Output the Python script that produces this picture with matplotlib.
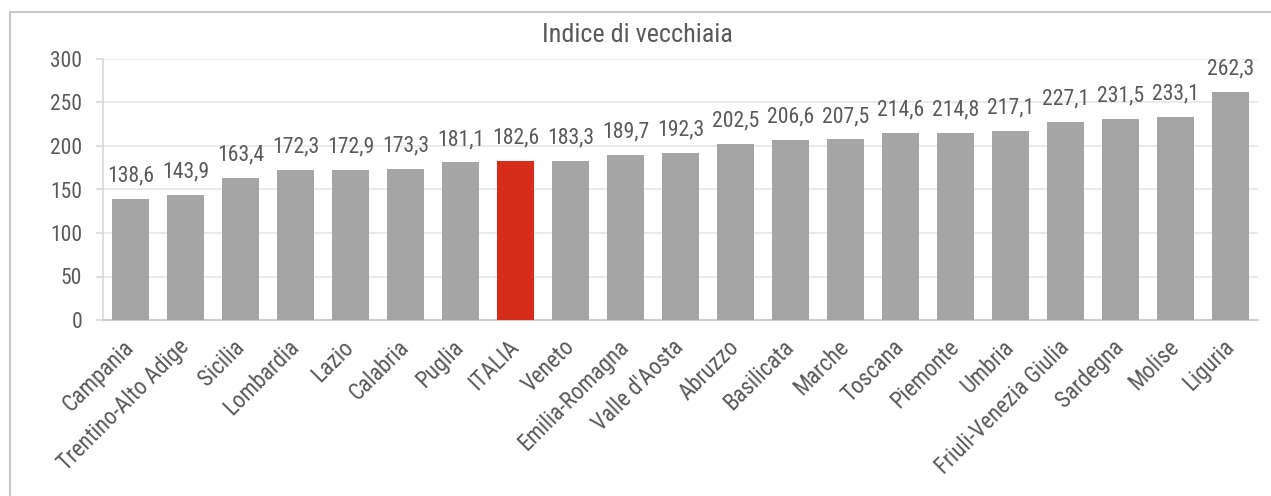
import matplotlib
matplotlib.use("Agg")
import matplotlib.pyplot as plt
from matplotlib.patches import Rectangle

plt.rcParams['font.family'] = ['Roboto Condensed', 'Liberation Sans Narrow', 'Liberation Sans', 'DejaVu Sans']

categories = ["Campania", "Trentino-Alto Adige", "Sicilia", "Lombardia", "Lazio",
              "Calabria", "Puglia", "ITALIA", "Veneto", "Emilia-Romagna",
              "Valle d'Aosta", "Abruzzo", "Basilicata", "Marche", "Toscana",
              "Piemonte", "Umbria", "Friuli-Venezia Giulia", "Sardegna", "Molise", "Liguria"]
values = [138.6, 143.9, 163.4, 172.3, 172.9, 173.3, 181.1, 182.6, 183.3, 189.7,
          192.3, 202.5, 206.6, 207.5, 214.6, 214.8, 217.1, 227.1, 231.5, 233.1, 262.3]
highlight = "ITALIA"
title = "Indice di vecchiaia"
yticks = [0, 50, 100, 150, 200, 250, 300]

W, H = 1271, 496
fig = plt.figure(figsize=(W / 100, H / 100), dpi=100)
fig.patch.set_facecolor("white")

# outer chart border
fig.patches.append(Rectangle((10 / W, -0.05), 1.1, (H - 12) / H + 0.05,
                             transform=fig.transFigure, fill=False,
                             edgecolor="#c8c8c8", linewidth=1.5))

ax = fig.add_axes([103 / W, (H - 320) / H, (1258 - 103) / W, (320 - 59) / H])
text_color = "#595959"
colors = ["#d62d1a" if c == highlight else "#a5a5a5" for c in categories]
x = list(range(len(categories)))
bars = ax.bar(x, values, width=0.66, color=colors, zorder=3)

for xi, v in zip(x, values):
    ax.annotate(f"{v:.1f}".replace(".", ","), (xi, v), xytext=(0, 9),
                textcoords="offset points", ha="center", va="bottom",
                fontsize=15.7, color=text_color)

ax.set_xlim(-0.5, len(categories) - 0.5)
ax.set_ylim(0, 300)
ax.set_yticks(yticks)
ax.set_yticklabels([str(t) for t in yticks])
ax.yaxis.grid(True, color="#e6e6e6", linewidth=1.2, zorder=0)
ax.set_axisbelow(True)

for s in ["top", "right"]:
    ax.spines[s].set_visible(False)
ax.spines["left"].set_color("#d9d9d9")
ax.spines["left"].set_linewidth(1.2)
ax.spines["bottom"].set_color("#cfcfcf")
ax.spines["bottom"].set_linewidth(1.5)

ax.tick_params(axis="y", length=5, width=1.2, color="#d9d9d9", pad=10,
               labelsize=15.5, labelcolor=text_color)
ax.tick_params(axis="x", length=0, pad=17, labelsize=16.5, labelcolor=text_color)
ax.set_xticks(x)
ax.set_xticklabels(categories, rotation=45, ha="right", va="center",
                   rotation_mode="anchor")

fig.text(637 / W, 1 - 35 / H, title, ha="center", va="center",
         fontsize=18.8, color=text_color)

fig.savefig("out.png", dpi=100, facecolor="white")
